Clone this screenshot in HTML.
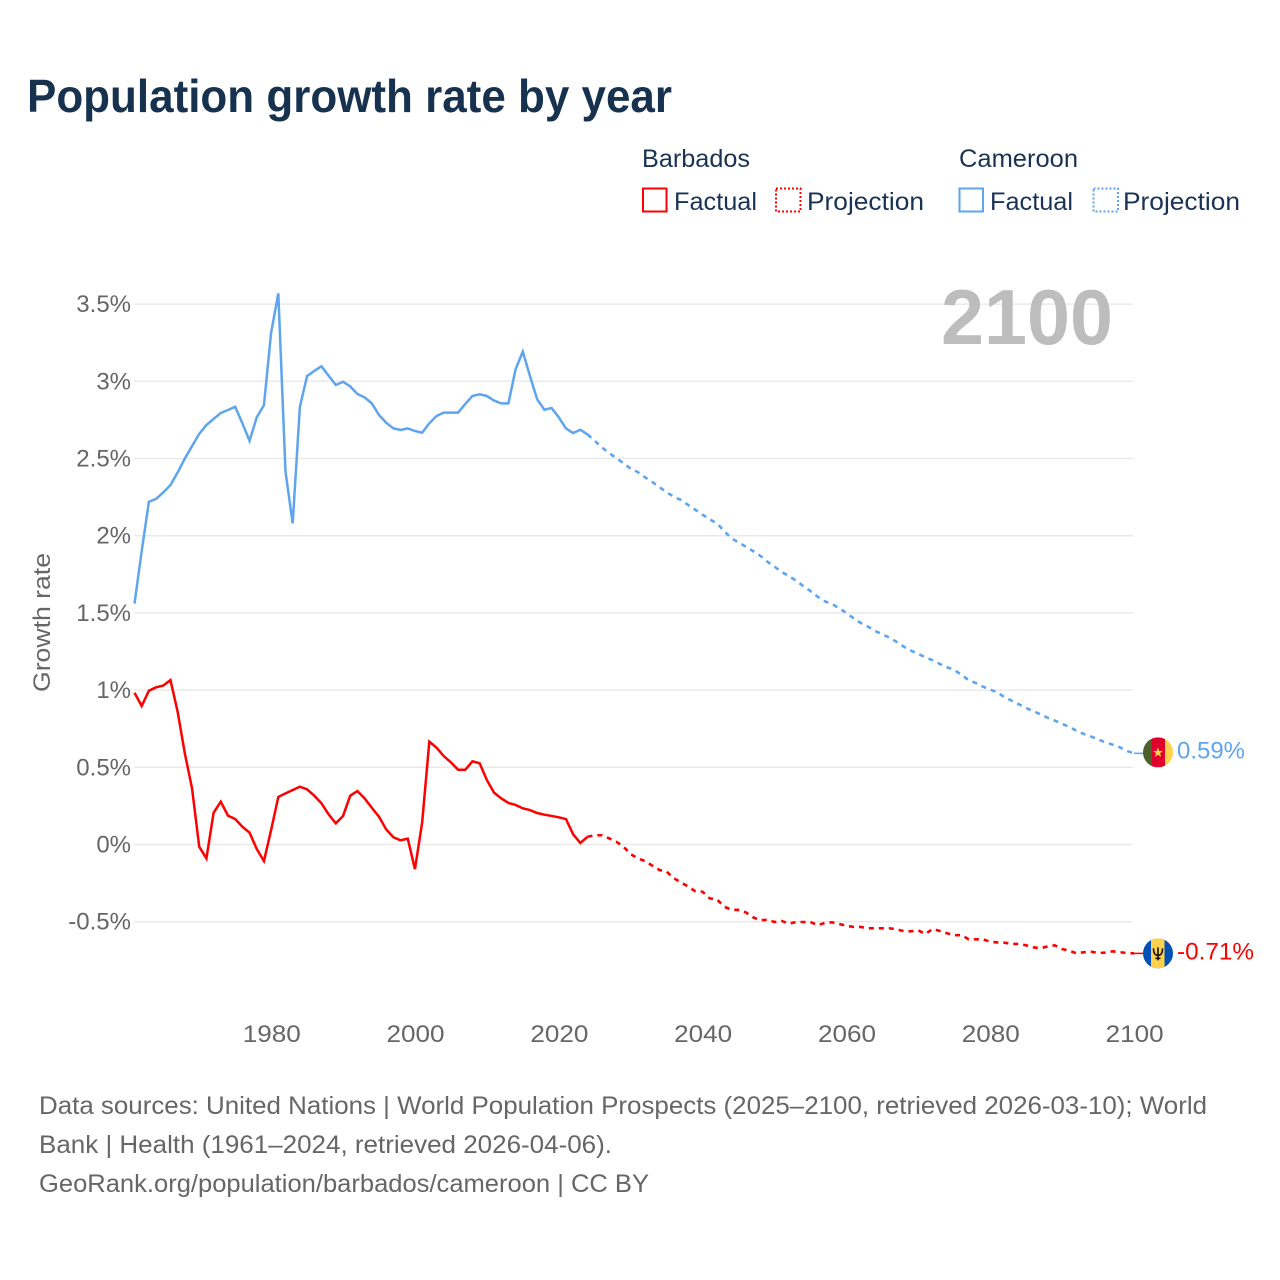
<!DOCTYPE html>
<html lang="en">
<head>
<meta charset="utf-8">
<title>Population growth rate by year</title>
<style>
html,body{margin:0;padding:0;background:#fff;width:1280px;height:1280px;overflow:hidden}
svg{display:block;font-family:"Liberation Sans",Arial,sans-serif}
</style>
</head>
<body>
<svg id="chart" xmlns="http://www.w3.org/2000/svg" width="1280" height="1280" viewBox="0 0 1280 1280">
  <rect width="1280" height="1280" fill="#ffffff"/>
  <text x="27" y="112" font-size="46" font-weight="700" fill="#17324f" textLength="645" lengthAdjust="spacingAndGlyphs">Population growth rate by year</text>

  <g font-size="25" fill="#1a3354">
    <text x="642" y="167" textLength="108" lengthAdjust="spacingAndGlyphs">Barbados</text>
    <text x="959" y="167" textLength="119" lengthAdjust="spacingAndGlyphs">Cameroon</text>
    <g>
      <rect x="643" y="188.5" width="23.5" height="23" fill="none" stroke="#ff0000" stroke-width="2"/>
      <text x="674" y="210" textLength="83" lengthAdjust="spacingAndGlyphs">Factual</text>
    </g>
    <g>
      <rect x="776" y="188.5" width="24.5" height="23" fill="none" stroke="#ff0000" stroke-width="2" stroke-dasharray="2 2"/>
      <text x="807" y="210" textLength="117" lengthAdjust="spacingAndGlyphs">Projection</text>
    </g>
    <g>
      <rect x="959.5" y="188.5" width="23.5" height="23" fill="none" stroke="#5ea5ee" stroke-width="2"/>
      <text x="990" y="210" textLength="83" lengthAdjust="spacingAndGlyphs">Factual</text>
    </g>
    <g>
      <rect x="1093.5" y="188.5" width="24.5" height="23" fill="none" stroke="#5ea5ee" stroke-width="2" stroke-dasharray="2 2"/>
      <text x="1123" y="210" textLength="117" lengthAdjust="spacingAndGlyphs">Projection</text>
    </g>
  </g>

  <g id="grid"></g>
  <text x="941" y="344" font-size="78" font-weight="700" fill="#bdbdbd" textLength="172" lengthAdjust="spacingAndGlyphs">2100</text>
  <g id="yticks" font-size="24" fill="#666666" text-anchor="end"></g>
  <g id="xticks" font-size="24" fill="#666666" text-anchor="middle"></g>
  <text transform="translate(50,692) rotate(-90)" font-size="24" fill="#666666" textLength="139" lengthAdjust="spacingAndGlyphs">Growth rate</text>
  <g id="series"></g>

  <g id="flag-cameroon">
    <clipPath id="clip-cm"><circle cx="0" cy="0" r="15"/></clipPath>
    <g clip-path="url(#clip-cm)">
      <rect x="-15" y="-15" width="10" height="30" fill="#4f5f2a"/>
      <rect x="-6" y="-15" width="13" height="30" fill="#e0002d"/>
      <rect x="7" y="-15" width="8" height="30" fill="#ffd24d"/>
      <polygon points="0,-5 1.3,-1.4 5,-1.4 2,0.9 3.1,4.6 0,2.4 -3.1,4.6 -2,0.9 -5,-1.4 -1.3,-1.4" fill="#ffd24d"/>
    </g>
  </g>
  <g id="flag-barbados">
    <clipPath id="clip-bb"><circle cx="0" cy="0" r="15"/></clipPath>
    <g clip-path="url(#clip-bb)">
      <rect x="-15" y="-15" width="30" height="30" fill="#0050b5"/>
      <rect x="-7" y="-15" width="13.5" height="30" fill="#ffd24d"/>
      <path d="M-4.5,-5 C-4.5,1 -2,2 0,2 C2,2 4.5,1 4.5,-5 M0,-6 V7 M-2.5,5 H2.5" fill="none" stroke="#111111" stroke-width="1.6"/>
    </g>
  </g>
  <text id="value-cameroon" x="1177" font-size="24" fill="#5ea5ee" textLength="68" lengthAdjust="spacingAndGlyphs">0.59%</text>
  <text id="value-barbados" x="1177" font-size="24" fill="#ff0000" textLength="77" lengthAdjust="spacingAndGlyphs">-0.71%</text>

  <g font-size="25" fill="#666666">
    <text x="39" y="1114" textLength="1168" lengthAdjust="spacingAndGlyphs">Data sources: United Nations | World Population Prospects (2025–2100, retrieved 2026-03-10); World</text>
    <text x="39" y="1153" textLength="573" lengthAdjust="spacingAndGlyphs">Bank | Health (1961–2024, retrieved 2026-04-06).</text>
    <text x="39" y="1192" textLength="610" lengthAdjust="spacingAndGlyphs">GeoRank.org/population/barbados/cameroon | CC BY</text>
  </g>
</svg>
<script>
const firstYear = 1961;
const lastFactualYear = 2024;

const yTickValues = [-0.5, 0, 0.5, 1, 1.5, 2, 2.5, 3, 3.5];
const yTickLabels = ["-0.5%", "0%", "0.5%", "1%", "1.5%", "2%", "2.5%", "3%", "3.5%"];
const xTickYears = [1980, 2000, 2020, 2040, 2060, 2080, 2100];

const cameroonFactual = [
  1.56, 1.90, 2.22, 2.238, 2.28, 2.328, 2.41, 2.50, 2.58, 2.66,
  2.717, 2.756, 2.795, 2.814, 2.835, 2.728, 2.615, 2.767, 2.845, 3.315,
  3.57, 2.415, 2.08, 2.835, 3.034, 3.067, 3.097, 3.036, 2.976, 2.997,
  2.967, 2.918, 2.896, 2.857, 2.782, 2.732, 2.695, 2.685, 2.695, 2.678,
  2.667, 2.728, 2.775, 2.797, 2.797, 2.797, 2.853, 2.905, 2.916, 2.905,
  2.875, 2.857, 2.857, 3.078, 3.192, 3.034, 2.883, 2.816, 2.827, 2.767,
  2.695, 2.665, 2.686, 2.656
];
const cameroonProjection = [
  2.615, 2.572, 2.535, 2.503, 2.47, 2.434, 2.412, 2.378, 2.348, 2.315,
  2.281, 2.253, 2.231, 2.199, 2.168, 2.136, 2.106, 2.08, 2.03, 1.983,
  1.957, 1.929, 1.901, 1.871, 1.832, 1.80, 1.765, 1.739, 1.709, 1.674,
  1.642, 1.605, 1.575, 1.558, 1.53, 1.50, 1.465, 1.435, 1.411, 1.383,
  1.361, 1.34, 1.312, 1.281, 1.255, 1.234, 1.212, 1.193, 1.169, 1.148,
  1.132, 1.098, 1.065, 1.046, 1.022, 1.003, 0.986, 0.953, 0.931, 0.908,
  0.884, 0.863, 0.843, 0.821, 0.802, 0.782, 0.761, 0.737, 0.716, 0.70,
  0.681, 0.662, 0.647, 0.63, 0.606, 0.59
];
const barbadosFactual = [
  0.983, 0.897, 0.996, 1.018, 1.029, 1.065, 0.86, 0.59, 0.364, -0.014,
  -0.09, 0.206, 0.277, 0.187, 0.165, 0.115, 0.077, -0.029, -0.107, 0.094,
  0.308, 0.331, 0.353, 0.374, 0.357, 0.316, 0.267, 0.195, 0.137, 0.185,
  0.316, 0.346, 0.299, 0.238, 0.18, 0.098, 0.047, 0.027, 0.038, -0.159,
  0.141, 0.666, 0.627, 0.573, 0.532, 0.484, 0.484, 0.539, 0.526, 0.418,
  0.336, 0.299, 0.269, 0.256, 0.234, 0.223, 0.204, 0.193, 0.185, 0.176,
  0.165, 0.066, 0.01, 0.05
];
const barbadosProjection = [
  0.06, 0.06, 0.04, 0.018, -0.014, -0.062, -0.09, -0.107, -0.137, -0.165,
  -0.176, -0.219, -0.245, -0.273, -0.303, -0.306, -0.349, -0.355, -0.403, -0.422,
  -0.424, -0.439, -0.471, -0.491, -0.487, -0.502, -0.495, -0.513, -0.502, -0.502,
  -0.502, -0.523, -0.508, -0.504, -0.515, -0.526, -0.534, -0.534, -0.543, -0.543,
  -0.543, -0.543, -0.549, -0.562, -0.562, -0.556, -0.58, -0.547, -0.56, -0.575,
  -0.588, -0.586, -0.614, -0.614, -0.614, -0.63, -0.634, -0.636, -0.644, -0.644,
  -0.653, -0.666, -0.672, -0.66, -0.653, -0.677, -0.688, -0.705, -0.698, -0.694,
  -0.703, -0.70, -0.692, -0.697, -0.703, -0.705
];

const NS = "http://www.w3.org/2000/svg";
const xScale = year => 134.5 + (year - 1961) * (1134 - 134.5) / (2100 - 1961);
const yScale = value => 844.5 - value * 154.4;
const flagX = 1158;

const gridGroup = document.getElementById("grid");
const yTickGroup = document.getElementById("yticks");
yTickValues.forEach((v, i) => {
  const line = document.createElementNS(NS, "line");
  
  
  line.setAttribute("x1", 134);
  line.setAttribute("x2", 1133);
  line.setAttribute("y1", yScale(v));
  line.setAttribute("y2", yScale(v));
  line.setAttribute("stroke", "#e9e9e9");
  line.setAttribute("stroke-width", "1.5");
  gridGroup.appendChild(line);
  const label = document.createElementNS(NS, "text");
  
  
  label.setAttribute("x", 131);
  label.setAttribute("y", yScale(v) + 8);
  label.textContent = yTickLabels[i];
  yTickGroup.appendChild(label);
});

const xTickGroup = document.getElementById("xticks");
xTickYears.forEach(year => {
  const label = document.createElementNS(NS, "text");
  
  
  label.setAttribute("x", xScale(year) + 0.6);
  label.setAttribute("y", 1042);
  label.setAttribute("textLength", 58);
  label.setAttribute("lengthAdjust", "spacingAndGlyphs");
  label.textContent = String(year);
  xTickGroup.appendChild(label);
});

function toPath(values, startYear) {
  return values.map((v, i) => (i ? "L" : "M") + xScale(startYear + i).toFixed(2) + "," + yScale(v).toFixed(2)).join(" ");
}

const seriesGroup = document.getElementById("series");

const barbadosFactualLine = document.createElementNS(NS, "path");


barbadosFactualLine.setAttribute("d", toPath(barbadosFactual, firstYear));
barbadosFactualLine.setAttribute("fill", "none");
barbadosFactualLine.setAttribute("stroke", "#ff0000");
barbadosFactualLine.setAttribute("stroke-width", "2.5");
seriesGroup.appendChild(barbadosFactualLine);

const barbadosProjectionLine = document.createElementNS(NS, "path");


barbadosProjectionLine.setAttribute("d", toPath(barbadosFactual.slice(-1).concat(barbadosProjection), lastFactualYear));
barbadosProjectionLine.setAttribute("fill", "none");
barbadosProjectionLine.setAttribute("stroke", "#ff0000");
barbadosProjectionLine.setAttribute("stroke-width", "2.6");
barbadosProjectionLine.setAttribute("stroke-dasharray", "5 5");
seriesGroup.appendChild(barbadosProjectionLine);

const cameroonFactualLine = document.createElementNS(NS, "path");


cameroonFactualLine.setAttribute("d", toPath(cameroonFactual, firstYear));
cameroonFactualLine.setAttribute("fill", "none");
cameroonFactualLine.setAttribute("stroke", "#5ea5ee");
cameroonFactualLine.setAttribute("stroke-width", "2.5");
seriesGroup.appendChild(cameroonFactualLine);

const cameroonProjectionLine = document.createElementNS(NS, "path");


cameroonProjectionLine.setAttribute("d", toPath(cameroonFactual.slice(-1).concat(cameroonProjection), lastFactualYear));
cameroonProjectionLine.setAttribute("fill", "none");
cameroonProjectionLine.setAttribute("stroke", "#5ea5ee");
cameroonProjectionLine.setAttribute("stroke-width", "2.6");
cameroonProjectionLine.setAttribute("stroke-dasharray", "5 5");
seriesGroup.appendChild(cameroonProjectionLine);

const cameroonEnd = cameroonProjection[cameroonProjection.length - 1];
const barbadosEnd = barbadosProjection[barbadosProjection.length - 1];

const cameroonConnector = document.createElementNS(NS, "line");


cameroonConnector.setAttribute("x1", xScale(2100));
cameroonConnector.setAttribute("x2", flagX);
cameroonConnector.setAttribute("y1", yScale(cameroonEnd));
cameroonConnector.setAttribute("y2", yScale(cameroonEnd));
cameroonConnector.setAttribute("stroke", "#5ea5ee");
cameroonConnector.setAttribute("stroke-width", "1.5");
seriesGroup.appendChild(cameroonConnector);

const barbadosConnector = document.createElementNS(NS, "line");


barbadosConnector.setAttribute("x1", xScale(2100));
barbadosConnector.setAttribute("x2", flagX);
barbadosConnector.setAttribute("y1", yScale(barbadosEnd));
barbadosConnector.setAttribute("y2", yScale(barbadosEnd));
barbadosConnector.setAttribute("stroke", "#ff0000");
barbadosConnector.setAttribute("stroke-width", "1.5");
seriesGroup.appendChild(barbadosConnector);

document.getElementById("flag-cameroon").setAttribute("transform", "translate(" + flagX + "," + (yScale(cameroonEnd) - 1) + ")");
document.getElementById("flag-barbados").setAttribute("transform", "translate(" + flagX + "," + yScale(barbadosEnd) + ")");
document.getElementById("value-cameroon").setAttribute("y", yScale(cameroonEnd) + 5);
document.getElementById("value-barbados").setAttribute("y", yScale(barbadosEnd) + 6);
</script>
</body>
</html>
